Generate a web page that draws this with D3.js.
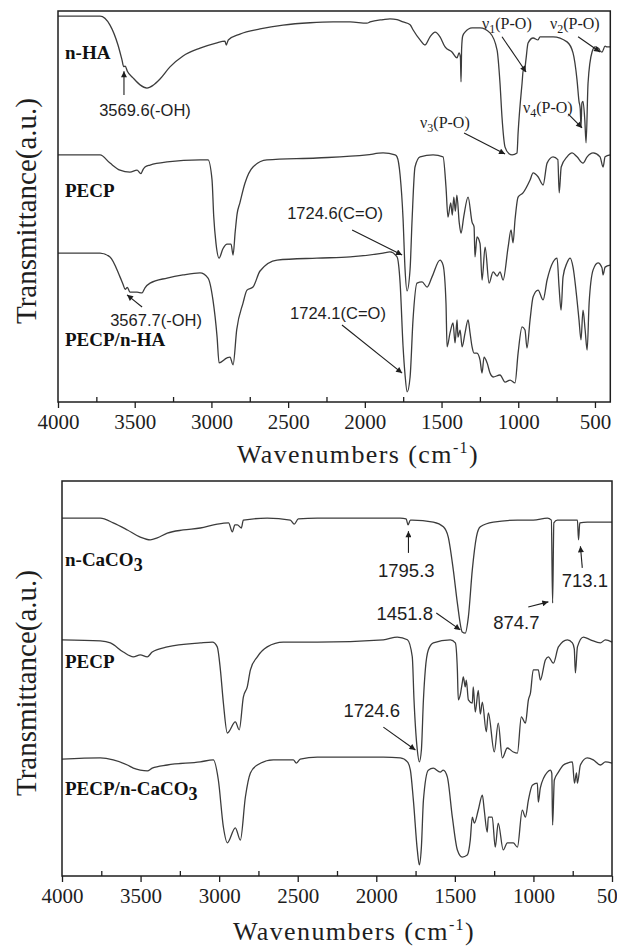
<!DOCTYPE html>
<html>
<head>
<meta charset="utf-8">
<script src="https://cdn.jsdelivr.net/npm/d3@7"></script>
<style>
  body { margin: 0; background: #fff; }
  svg { display: block; }
</style>
</head>
<body>
<svg id="chart" width="617" height="950"></svg>
<script>
// ---------- FTIR spectra: [wavenumber (cm-1), transmittance (a.u., stacked)] ----------

// Upper panel
const nHA = [
  [4000,98.7],[3726,98.7],[3661,96.4],[3609,91.3],[3583,87.5],[3572,85.8],[3562,85.9],[3548,84.6],
  [3511,82.9],[3465,81.1],[3420,80.3],[3380,81.0],[3335,82.6],[3270,85.7],[3185,88.5],[3074,90.5],
  [2970,91.8],[2912,92.3],[2903,91.3],[2890,92.6],[2814,94.1],[2683,95.4],[2533,96.4],[2357,97.0],
  [2207,97.2],[2096,97.2],[1986,96.9],[1966,97.2],[1881,97.8],[1836,98.0],[1790,97.8],[1751,97.2],
  [1705,96.5],[1686,95.2],[1640,92.6],[1608,91.3],[1575,93.4],[1542,94.6],[1510,93.4],[1477,90.8],
  [1432,89.5],[1399,88.0],[1386,89.3],[1377,88.2],[1373,81.9],[1369,90.5],[1362,93.6],[1347,94.6],
  [1301,95.7],[1249,95.7],[1184,94.4],[1138,90.0],[1119,81.6],[1106,72.9],[1086,65.2],[1060,63.5],
  [1040,63.2],[1008,63.7],[1001,68.8],[975,81.6],[966,85.4],[960,84.6],[950,87.5],[936,91.8],
  [903,93.1],[871,92.6],[858,93.4],[773,93.4],[682,92.1],[643,89.3],[617,82.4],[604,76.9],
  [596,75.0],[591,70.3],[585,76.5],[578,76.9],[566,72.0],[558,66.3],[545,81.6],[519,89.5],
  [499,90.8],[475,90.4],[467,89.8],[454,89.5],[434,91.0],[421,90.8],[400,90.8]
];

const pecpUpper = [
  [4000,63.2],[3726,63.2],[3661,61.1],[3596,59.3],[3531,58.8],[3485,59.3],[3460,58.4],[3445,59.5],
  [3433,60.1],[3400,60.6],[3289,61.4],[3074,61.9],[3022,61.9],[2996,56.8],[2985,47.5],[2970,40.5],
  [2950,36.8],[2925,39.2],[2898,40.4],[2872,40.4],[2859,37.6],[2845,43.5],[2833,48.0],[2814,51.0],
  [2781,56.0],[2729,60.1],[2638,61.9],[2312,62.4],[1986,63.2],[1881,63.7],[1803,63.2],[1790,62.7],
  [1770,58.0],[1751,47.0],[1738,34.0],[1725,28.4],[1705,34.0],[1692,46.6],[1673,60.1],[1640,62.7],
  [1555,63.2],[1490,62.7],[1471,55.0],[1458,47.3],[1440,50.9],[1430,47.8],[1420,52.4],[1410,48.8],
  [1400,52.9],[1385,46.0],[1373,43.2],[1355,47.5],[1327,52.4],[1301,46.0],[1288,44.8],[1282,37.1],
  [1269,42.2],[1249,40.5],[1236,31.2],[1216,39.6],[1190,30.4],[1164,33.3],[1138,32.2],[1119,33.3],
  [1099,31.2],[1066,39.6],[1047,44.0],[1034,40.7],[1021,46.6],[1001,52.4],[969,53.5],[923,56.8],
  [903,58.6],[871,57.6],[838,55.5],[812,61.1],[773,62.7],[742,62.0],[733,53.5],[720,60.1],
  [682,62.7],[649,63.7],[617,62.7],[578,61.1],[551,62.7],[512,63.7],[467,62.7],[447,60.1],
  [434,62.7],[400,63.2]
];

const pecpHA = [
  [4000,38.1],[3726,38.1],[3661,37.1],[3596,32.0],[3575,30.0],[3562,28.8],[3548,29.3],[3531,28.1],
  [3485,28.1],[3452,27.9],[3433,29.2],[3400,30.4],[3289,31.7],[3185,32.5],[3074,33.0],[3022,31.7],
  [2990,26.1],[2963,16.6],[2950,10.0],[2898,11.3],[2879,11.5],[2859,9.5],[2835,18.5],[2794,25.3],
  [2768,28.6],[2729,29.4],[2683,33.5],[2572,36.3],[2312,36.8],[2096,37.1],[1881,38.1],[1836,38.4],
  [1790,37.1],[1770,30.4],[1751,14.3],[1738,7.0],[1724,2.6],[1705,6.4],[1686,21.0],[1660,30.4],
  [1627,30.7],[1594,29.4],[1562,32.0],[1510,36.3],[1490,35.0],[1471,25.3],[1464,14.1],[1445,17.6],
  [1425,20.2],[1412,15.1],[1399,21.0],[1393,16.6],[1379,18.4],[1366,14.1],[1347,17.6],[1327,21.0],
  [1314,17.6],[1301,14.1],[1288,12.5],[1269,12.5],[1249,10.7],[1236,7.4],[1223,11.5],[1203,10.0],
  [1184,7.4],[1164,6.4],[1119,6.9],[1086,5.1],[1053,5.6],[1021,4.9],[1001,12.5],[975,19.2],
  [956,18.4],[943,13.8],[923,21.0],[903,26.9],[871,28.6],[838,26.1],[812,31.2],[773,35.8],
  [747,36.8],[734,29.4],[721,23.5],[708,32.0],[682,35.6],[662,36.8],[643,34.5],[617,26.1],
  [604,21.0],[591,15.9],[578,23.5],[564,18.4],[551,13.3],[538,25.3],[512,33.8],[480,35.6],
  [454,34.3],[447,32.5],[434,34.5],[400,35.0]
];

// Lower panel
const nCaCO3 = [
  [4000,90.6],[3756,90.6],[3674,89.4],[3584,87.6],[3502,85.8],[3438,85.1],[3394,85.6],[3330,86.8],
  [3228,87.6],[3120,88.1],[3012,89.1],[2940,89.4],[2916,87.1],[2900,88.9],[2884,88.9],[2859,88.1],
  [2846,90.1],[2694,90.6],[2547,90.1],[2522,89.1],[2496,90.4],[2375,90.6],[2165,90.6],[1847,90.6],
  [1810,90.4],[1798,88.9],[1783,90.1],[1771,90.1],[1637,89.6],[1573,88.4],[1542,85.8],[1510,77.5],
  [1484,69.1],[1453,61.8],[1434,61.5],[1414,65.6],[1389,77.5],[1363,85.8],[1338,88.4],[1255,89.6],
  [1102,90.1],[1001,90.1],[911,90.6],[886,90.1],[878,69.1],[870,89.4],[848,90.1],[746,90.1],
  [720,90.1],[713,85.1],[705,89.4],[657,89.6],[500,89.6]
];

const pecpLower = [
  [4000,59.8],[3756,59.5],[3692,59.0],[3610,56.7],[3546,55.5],[3502,56.0],[3457,55.5],[3426,56.7],
  [3330,58.0],[3120,59.0],[3043,59.2],[3012,58.0],[2992,52.2],[2973,43.8],[2948,36.2],[2897,39.0],
  [2872,37.0],[2846,45.3],[2821,47.9],[2801,52.2],[2757,55.5],[2694,58.0],[2592,59.2],[2375,59.2],
  [1955,59.8],[1866,60.5],[1802,59.8],[1771,55.5],[1760,44.6],[1739,31.9],[1726,28.9],[1713,31.9],
  [1700,44.6],[1688,52.2],[1669,57.2],[1637,59.0],[1529,59.8],[1497,59.0],[1484,52.2],[1478,44.6],
  [1465,46.0],[1453,48.9],[1446,50.4],[1434,47.9],[1427,49.6],[1414,44.6],[1389,43.8],[1383,47.9],
  [1370,41.5],[1351,47.0],[1338,41.0],[1325,44.0],[1300,36.5],[1287,41.3],[1249,31.4],[1224,38.7],
  [1198,29.9],[1166,32.4],[1128,31.4],[1102,31.1],[1077,40.3],[1051,38.7],[1032,44.6],[1019,46.3],
  [1001,52.2],[969,52.2],[956,49.6],[924,54.7],[905,55.5],[873,53.9],[841,58.0],[784,59.8],
  [752,59.0],[740,57.5],[733,51.4],[720,58.0],[682,60.5],[637,59.8],[574,59.0],[542,59.8],[500,59.2]
];

const pecpCaCO3 = [
  [4000,29.6],[3756,29.9],[3674,29.4],[3584,28.1],[3546,27.3],[3502,26.8],[3457,26.6],[3426,27.3],
  [3330,28.1],[3120,28.9],[3037,29.4],[3005,24.3],[2973,12.4],[2948,8.4],[2897,12.2],[2865,9.1],
  [2833,20.0],[2801,26.1],[2757,28.1],[2655,29.4],[2528,29.4],[2509,28.6],[2484,29.6],[2375,30.1],
  [1955,30.1],[1847,29.9],[1802,28.9],[1783,26.8],[1764,19.2],[1739,6.6],[1726,2.8],[1713,7.3],
  [1700,19.2],[1669,26.8],[1637,27.3],[1593,26.3],[1574,26.8],[1548,25.1],[1516,14.9],[1484,6.6],
  [1453,4.8],[1421,5.3],[1402,9.1],[1389,14.9],[1376,13.4],[1351,16.7],[1325,20.5],[1313,16.7],
  [1294,11.1],[1287,14.9],[1262,14.9],[1243,7.3],[1224,13.4],[1192,6.6],[1166,8.4],[1128,8.4],
  [1102,7.3],[1071,16.7],[1051,14.9],[1032,19.2],[1007,23.0],[975,23.5],[969,18.7],[956,22.3],
  [911,26.3],[892,26.8],[883,26.0],[878,12.9],[867,24.3],[841,26.3],[809,28.1],[784,28.6],
  [752,28.9],[739,23.5],[726,26.1],[720,23.5],[701,28.1],[657,29.9],[619,29.4],[574,28.1],
  [542,28.9],[500,28.6]
];

// Axis ticks (cm-1)
const majorTicks = [4000, 3500, 3000, 2500, 2000, 1500, 1000, 500];
const minorTicks = [3750, 3250, 2750, 2250, 1750, 1250, 750];

// Sample names: [name, subscript, transmittance level of the label baseline]
const upperNames = [["n-HA", "", 87.7], ["PECP", "", 52.4], ["PECP/n-HA", "", 14.3]];
const lowerNames = [["n-CaCO", "3", 78.4], ["PECP", "", 52.6], ["PECP/n-CaCO", "3", 20.6]];

// Band assignments: label anchor (tx, ty) and arrow from -> to, all in data units
const upperNotes = [
  { lead: "3569.6(-OH)", face: "sans", tx: 3433, ty: 73.2, anchor: "middle", from: [3570, 78.5], to: [3570, 84.6] },
  { lead: "\u03bd", sub: "1", tail: "(P-O)", face: "serif", tx: 1236, ty: 95.4, anchor: "start", from: [1106, 93.4], to: [949, 84.4] },
  { lead: "\u03bd", sub: "2", tail: "(P-O)", face: "serif", tx: 793, ty: 95.4, anchor: "start", from: [610, 93.4], to: [467, 89.5] },
  { lead: "\u03bd", sub: "4", tail: "(P-O)", face: "serif", tx: 969, ty: 73.9, anchor: "start", from: [675, 73.7], to: [584, 70.1] },
  { lead: "\u03bd", sub: "3", tail: "(P-O)", face: "serif", tx: 1640, ty: 70.1, anchor: "start", from: [1353, 68.8], to: [1086, 63.4] },
  { lead: "1724.6(C=O)", face: "sans", tx: 2194, ty: 46.8, anchor: "middle", from: [2083, 44.0], to: [1757, 37.6] },
  { lead: "1724.1(C=O)", face: "sans", tx: 2175, ty: 21.2, anchor: "middle", from: [2149, 19.7], to: [1757, 7.4] },
  { lead: "3567.7(-OH)", face: "sans", tx: 3361, ty: 19.4, anchor: "middle", from: [3452, 24.3], to: [3550, 27.4] }
];

const lowerNotes = [
  { lead: "1795.3", face: "sans", tx: 1809, ty: 75.7, anchor: "middle", from: [1795.3, 81.8], to: [1795.3, 87.3] },
  { lead: "1451.8", face: "sans", tx: 1819, ty: 64.8, anchor: "middle", from: [1618, 66.6], to: [1465, 62.3] },
  { lead: "874.7", face: "sans", tx: 1109, ty: 62.5, anchor: "middle", from: [1033, 68.1], to: [905, 69.4] },
  { lead: "713.1", face: "sans", tx: 673, ty: 73.2, anchor: "middle", from: [689, 78.0], to: [701, 83.5] },
  { lead: "1724.6", face: "sans", tx: 2029, ty: 40.3, anchor: "middle", from: [1955, 37.7], to: [1751, 31.9] }
];

// ---------- drawing ----------
const SERIF = "Liberation Serif, Times New Roman, Times, serif";
const SANS = "Liberation Sans, Arial, Helvetica, sans-serif";
const INK = "#1e1e1e";
const TRACE = "#3c3c3c";

const svg = d3.select("#chart");

svg.append("defs").append("marker")
  .attr("id", "head")
  .attr("viewBox", "0 0 10 10")
  .attr("refX", 10).attr("refY", 5)
  .attr("markerWidth", 8).attr("markerHeight", 6)
  .attr("markerUnits", "userSpaceOnUse")
  .attr("orient", "auto")
  .append("path").attr("d", "M0,0L10,5L0,10Z").attr("fill", INK);

function drawPanel(p) {
  const x = d3.scaleLinear().domain(p.xDomain).range([p.left, p.right]);
  const y = d3.scaleLinear().domain([0, 100]).range([p.bottom, p.top]);
  const g = svg.append("g");

  const line = d3.line()
    .x(d => x(d[0]))
    .y(d => y(d[1]))
    .curve(d3.curveMonotoneX);

  g.append("g").selectAll("path")
    .data(p.series)
    .join("path")
    .attr("d", s => line(s))
    .attr("fill", "none")
    .attr("stroke", TRACE)
    .attr("stroke-width", 1.3)
    .attr("stroke-linejoin", "round");

  // frame
  g.append("rect")
    .attr("x", p.left).attr("y", p.top)
    .attr("width", p.right - p.left).attr("height", p.bottom - p.top)
    .attr("fill", "none").attr("stroke", INK).attr("stroke-width", 1.5);

  // major ticks point out, minor ticks point in
  const major = d3.axisBottom(x)
    .tickValues(majorTicks)
    .tickFormat(d3.format("d"))
    .tickSize(6).tickSizeOuter(0).tickPadding(6);
  const ax = g.append("g")
    .attr("transform", `translate(0,${p.bottom})`)
    .call(major)
    .attr("font-family", SERIF).attr("font-size", 21);
  ax.select(".domain").remove();
  ax.selectAll(".tick line").attr("stroke", INK).attr("stroke-width", 1.3);
  ax.selectAll(".tick text")
    .style("font-family", SERIF).style("font-size", "21px").attr("fill", INK);

  const minor = d3.axisBottom(x).tickValues(minorTicks).tickSize(-5).tickFormat("");
  const mx = g.append("g").attr("transform", `translate(0,${p.bottom})`).call(minor);
  mx.select(".domain").remove();
  mx.selectAll(".tick line").attr("stroke", INK).attr("stroke-width", 1.3);

  // axis titles
  const xt = g.append("text")
    .attr("x", p.xTitleX).attr("y", p.xTitleY)
    .attr("text-anchor", "middle")
    .style("font-family", SERIF).style("font-size", "26px")
    .attr("letter-spacing", 1.4)
    .attr("fill", INK);
  xt.append("tspan").text("Wavenumbers (cm");
  xt.append("tspan").style("font-size", "16px").attr("dy", -10).text("-1");
  xt.append("tspan").attr("dy", 10).text(")");

  g.append("text")
    .attr("transform", `translate(${p.yTitleX},${p.yTitleY}) rotate(-90)`)
    .attr("text-anchor", "middle")
    .style("font-family", SERIF).style("font-size", "29px")
    .attr("fill", INK)
    .text("Transmittance(a.u.)");

  // sample names
  p.names.forEach(([name, sub, level]) => {
    const t = g.append("text")
      .attr("x", p.nameX).attr("y", y(level))
      .style("font-family", SERIF).style("font-weight", "bold").style("font-size", "19px")
      .attr("fill", "#111");
    t.append("tspan").text(name);
    if (sub) t.append("tspan").attr("dy", 5).style("font-size", "18px").text(sub);
  });

  // band assignments
  p.notes.forEach(n => {
    g.append("line")
      .attr("x1", x(n.from[0])).attr("y1", y(n.from[1]))
      .attr("x2", x(n.to[0])).attr("y2", y(n.to[1]))
      .attr("stroke", INK).attr("stroke-width", 1.1)
      .attr("marker-end", "url(#head)");
    const serif = n.face === "serif";
    const t = g.append("text")
      .attr("x", x(n.tx)).attr("y", y(n.ty))
      .attr("text-anchor", n.anchor)
      .style("font-family", serif ? SERIF : SANS)
      .style("font-size", (serif ? 16 : p.noteSize) + "px")
      .attr("fill", INK);
    t.append("tspan").text(n.lead);
    if (n.sub) {
      t.append("tspan").attr("dy", 4).style("font-size", "12px").text(n.sub);
      t.append("tspan").attr("dy", -4).text(n.tail);
    }
  });
}

drawPanel({
  left: 58, right: 610.3, top: 11, bottom: 402,
  xDomain: [4000, 400],
  series: [nHA, pecpUpper, pecpHA],
  names: upperNames, nameX: 65, notes: upperNotes, noteSize: 16.5,
  xTitleX: 358, xTitleY: 463, yTitleX: 36, yTitleY: 211
});

drawPanel({
  left: 62, right: 612, top: 481, bottom: 876,
  xDomain: [4000, 500],
  series: [nCaCO3, pecpLower, pecpCaCO3],
  names: lowerNames, nameX: 65, notes: lowerNotes, noteSize: 18.5,
  xTitleX: 354, xTitleY: 940, yTitleX: 36, yTitleY: 683
});
</script>
</body>
</html>
